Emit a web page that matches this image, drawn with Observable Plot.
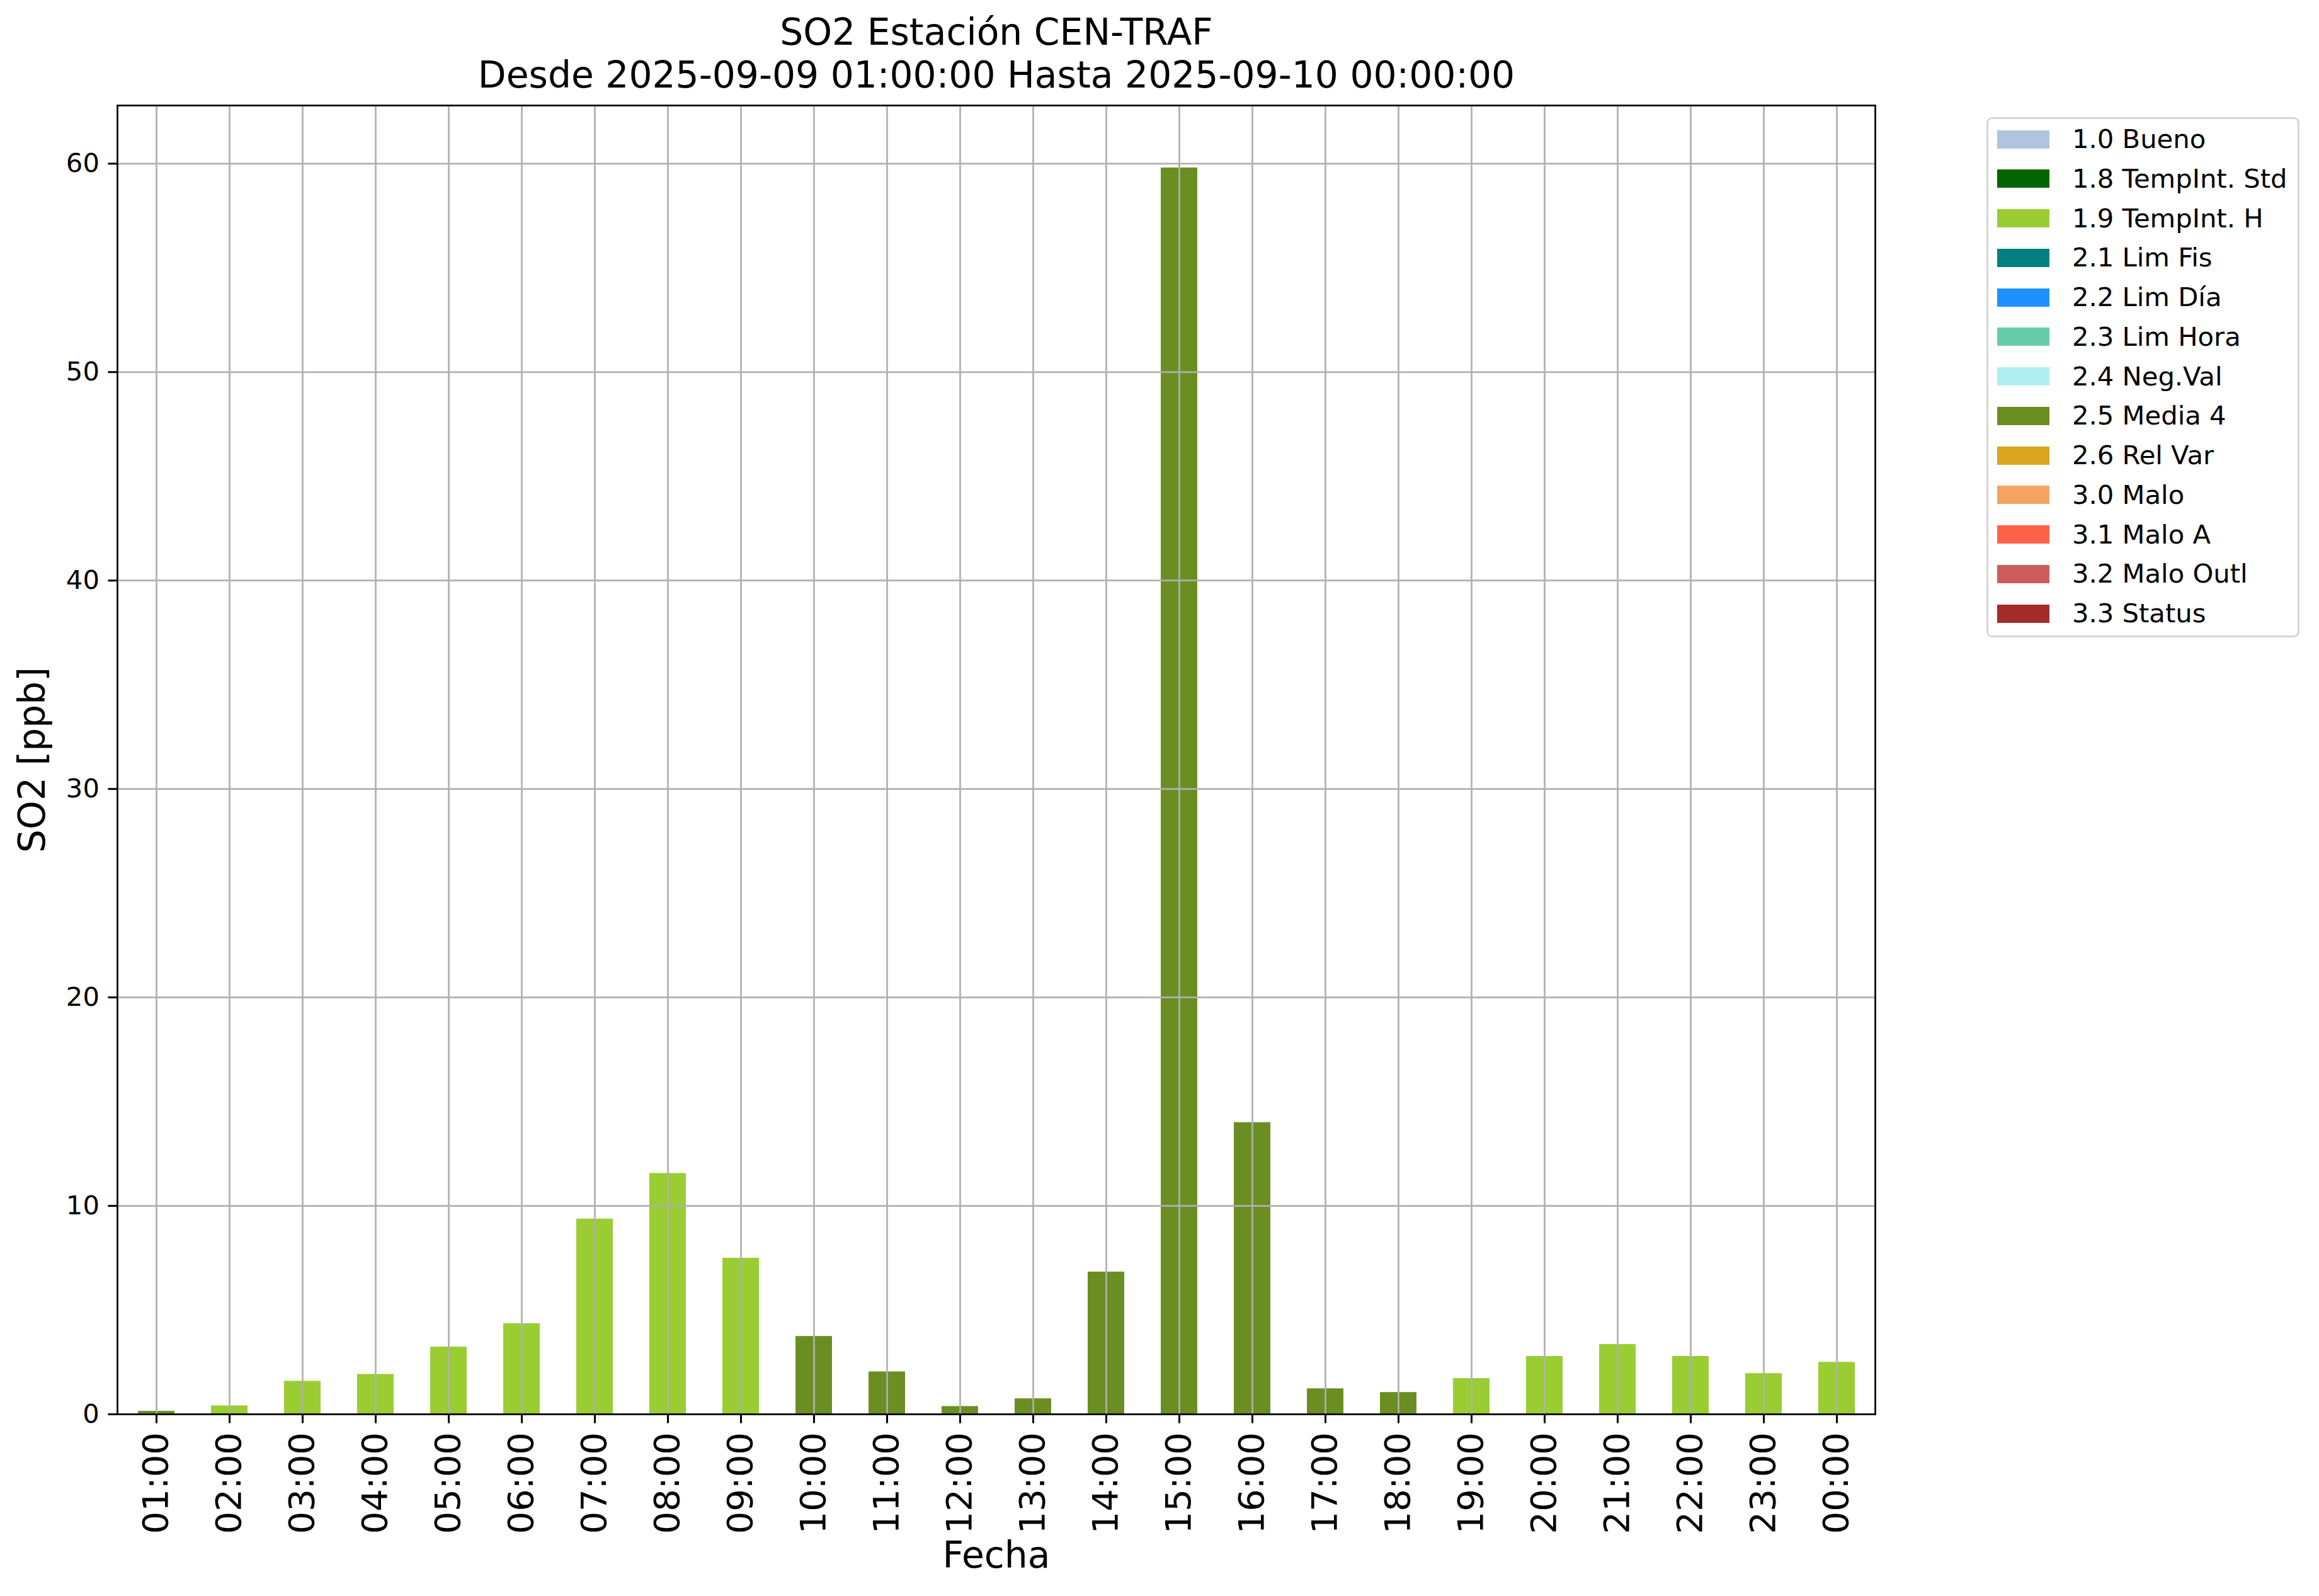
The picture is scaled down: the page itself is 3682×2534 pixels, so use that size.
<!DOCTYPE html>
<html>
<head>
<meta charset="utf-8">
<script src="https://cdn.jsdelivr.net/npm/d3@7"></script>
<script src="https://cdn.jsdelivr.net/npm/@observablehq/plot@0.6"></script>
<style>
  html, body { margin: 0; padding: 0; background: #fff; }
  #wrap { position: relative; width: 3682px; height: 2534px; background: #fff; font-family: "DejaVu Sans", sans-serif; }
  #chart svg { display: block; }
  .legend { position: absolute; left: 3154px; top: 186px; width: 497px; height: 826px; border: 3px solid #d6d6d6; border-radius: 9px; box-sizing: border-box; background: #fff; }
  .sw { position: absolute; width: 83px; height: 29px; }
  .lt { position: absolute; font-size: 41.7px; line-height: 1; color: #000; white-space: nowrap; }
</style>
</head>
<body>
<div id="wrap"><div id="chart"></div></div>
<script>
// ---- data ----
const hours = ["01:00","02:00","03:00","04:00","05:00","06:00","07:00","08:00","09:00","10:00","11:00","12:00",
               "13:00","14:00","15:00","16:00","17:00","18:00","19:00","20:00","21:00","22:00","23:00","00:00"];
const values = [0.15, 0.41, 1.59, 1.92, 3.23, 4.35, 9.37, 11.56, 7.49, 3.74, 2.04, 0.38,
                0.75, 6.83, 59.8, 14.0, 1.23, 1.05, 1.72, 2.78, 3.35, 2.78, 1.96, 2.50];
const flags = ["2.5 Media 4",
  "1.9 TempInt. H","1.9 TempInt. H","1.9 TempInt. H","1.9 TempInt. H","1.9 TempInt. H","1.9 TempInt. H","1.9 TempInt. H","1.9 TempInt. H",
  "2.5 Media 4","2.5 Media 4","2.5 Media 4","2.5 Media 4","2.5 Media 4","2.5 Media 4","2.5 Media 4","2.5 Media 4","2.5 Media 4",
  "1.9 TempInt. H","1.9 TempInt. H","1.9 TempInt. H","1.9 TempInt. H","1.9 TempInt. H","1.9 TempInt. H"];
const legendLabels = ["1.0 Bueno","1.8 TempInt. Std","1.9 TempInt. H","2.1 Lim Fis","2.2 Lim Día","2.3 Lim Hora",
  "2.4 Neg.Val","2.5 Media 4","2.6 Rel Var","3.0 Malo","3.1 Malo A","3.2 Malo Outl","3.3 Status"];
const legendColors = ["#B0C4DE","#006400","#9ACD32","#008080","#1E90FF","#66CDAA",
  "#AFEEEE","#6B8E23","#DAA520","#F4A460","#FF6347","#CD5C5C","#A52A2A"];
const yTicks = [0, 10, 20, 30, 40, 50, 60];
const titleLines = ["SO2 Estación CEN-TRAF", "Desde 2025-09-09 01:00:00 Hasta 2025-09-10 00:00:00"];
const xLabel = "Fecha";
const yLabel = "SO2 [ppb]";

const data = hours.map((h, i) => ({hour: h, value: values[i], flag: flags[i]}));
const yMax = d3.max(values) * 1.05;

const chart = Plot.plot({
  width: 3682,
  height: 2534,
  marginLeft: 186,
  marginRight: 705,
  marginTop: 167,
  marginBottom: 289,
  style: {fontFamily: "DejaVu Sans", fontSize: "41.7px", background: "white", color: "black"},
  x: {domain: hours, paddingInner: 0.5, paddingOuter: 0.25, label: null},
  y: {domain: [0, yMax], label: null},
  color: {domain: legendLabels, range: legendColors},
  marks: [
    Plot.barY(data, {x: "hour", y: "value", fill: "flag"}),
    Plot.gridX({stroke: "#b0b0b0", strokeOpacity: 1, strokeWidth: 2.7}),
    Plot.gridY(yTicks, {stroke: "#b0b0b0", strokeOpacity: 1, strokeWidth: 2.7}),
    Plot.frame({stroke: "black", strokeWidth: 2.7}),
    Plot.axisY(yTicks, {tickSize: 14.6, tickPadding: 14, fontSize: 41.7, strokeWidth: 3, label: null, tickFormat: d => d}),
    Plot.axisX({tickSize: 14.6, tickPadding: 14, fontSize: 56, tickRotate: -90, strokeWidth: 3, label: null}),
    Plot.text([titleLines[0]], {text: d => d, frameAnchor: "top", dy: -115, fontSize: 58.3, fill: "black", lineAnchor: "middle", textAnchor: "middle"}),
    Plot.text([titleLines[1]], {text: d => d, frameAnchor: "top", dy: -47, fontSize: 58.3, fill: "black", lineAnchor: "middle", textAnchor: "middle"}),
    Plot.text([xLabel], {text: d => d, frameAnchor: "bottom", dy: 225, fontSize: 58.3, fill: "black", lineAnchor: "middle", textAnchor: "middle"}),
    Plot.text([yLabel], {text: d => d, frameAnchor: "left", dx: -134, rotate: -90, fontSize: 58.3, fill: "black", lineAnchor: "middle", textAnchor: "middle"})
  ]
});
document.getElementById("chart").appendChild(chart);

// ---- legend ----
const wrap = document.getElementById("wrap");
const box = document.createElement("div");
box.className = "legend";
wrap.appendChild(box);
legendLabels.forEach((lab, i) => {
  const cy = 221 + i * 62.75;
  const sw = document.createElement("div");
  sw.className = "sw";
  sw.style.left = "3171px";
  sw.style.top = (cy - 14.5) + "px";
  sw.style.background = legendColors[i];
  wrap.appendChild(sw);
  const t = document.createElement("div");
  t.className = "lt";
  t.style.left = "3290px";
  t.style.top = (cy - 21) + "px";
  t.textContent = lab;
  wrap.appendChild(t);
});
</script>
</body>
</html>
